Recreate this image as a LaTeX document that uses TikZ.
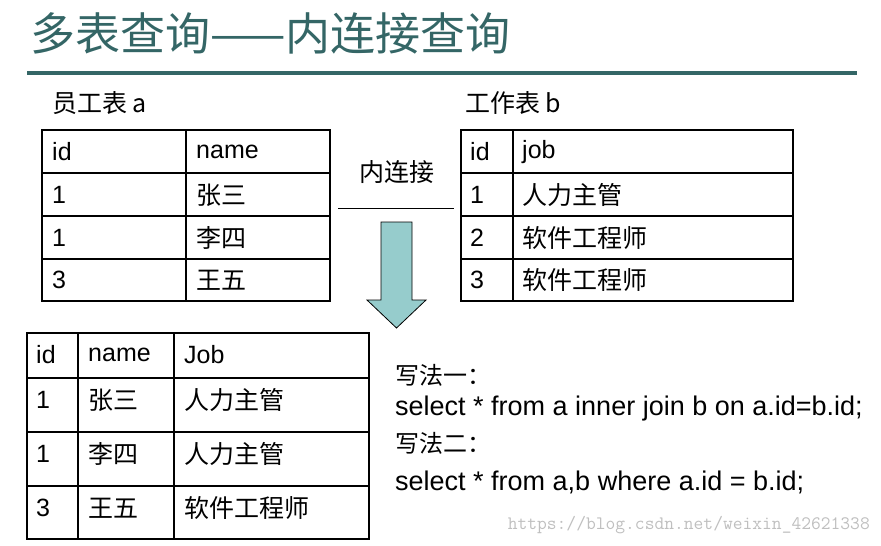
\documentclass[tikz,border=0pt]{standalone}
\usepackage{fontspec}
\setmainfont{Liberation Sans}
\newfontfamily\cjk{Noto Sans CJK SC}
\definecolor{teal1}{RGB}{52,102,102}
\definecolor{arrowfill}{RGB}{150,204,204}
\tikzset{
    cell/.style={anchor=west, inner sep=0pt, font=\fontsize{25}{28}\selectfont},
    code/.style={anchor=west, inner sep=0pt, font=\fontsize{27}{28}\selectfont},
    grid/.style={line width=1.5pt}
}
\begin{document}
\begin{tikzpicture}[x=1pt, y=-1pt]
    \useasboundingbox (0,0) rectangle (881,546);
    % title
    \node[anchor=west, inner sep=0pt, text=teal1, font=\cjk\fontsize{45}{48}\selectfont] (title) at (30,33) {多表查询——内连接查询};
    \draw[teal1, line width=4pt] (27,73) -- (857,73);

    % table a
    \node[cell, font=\cjk\fontsize{25}{28}\selectfont] (la) at (52,103) {员工表 a};
    \draw[grid] (42,130) rectangle (330,301);
    \foreach \y in {173,216,259} \draw[grid] (42,\y) -- (330,\y);
    \draw[grid] (186,130) -- (186,301);
    \node[cell] (a11) at (52,152) {id};
    \node[cell] (a12) at (196,152) {name};
    \node[cell] (a21) at (52,195) {1};
    \node[cell] (a22) at (196,195) {\cjk 张三};
    \node[cell] (a31) at (52,238) {1};
    \node[cell] (a32) at (196,238) {\cjk 李四};
    \node[cell] (a41) at (52,280) {3};
    \node[cell] (a42) at (196,280) {\cjk 王五};

    % table b
    \node[cell, font=\cjk\fontsize{25}{28}\selectfont] (lb) at (465,103) {工作表 b};
    \draw[grid] (461,130) rectangle (793,301);
    \foreach \y in {173,216,259} \draw[grid] (461,\y) -- (793,\y);
    \draw[grid] (513,130) -- (513,301);
    \node[cell] (b11) at (470,152) {id};
    \node[cell] (b12) at (522,152) {job};
    \node[cell] (b21) at (470,195) {1};
    \node[cell] (b22) at (522,195) {\cjk 人力主管};
    \node[cell] (b31) at (470,238) {2};
    \node[cell] (b32) at (522,238) {\cjk 软件工程师};
    \node[cell] (b41) at (470,280) {3};
    \node[cell] (b42) at (522,280) {\cjk 软件工程师};

    % join
    \node[font=\cjk\fontsize{25}{28}\selectfont] (join) at (397,172) {内连接};
    \draw[thick] (338,208) -- (454,208);
    \draw[fill=arrowfill, thick] (381,222) -- (412,222) -- (412,300) -- (426,300)
        -- (396.5,328) -- (367,300) -- (381,300) -- cycle;

    % result table
    \draw[grid] (27,333) rectangle (369,539);
    \foreach \y in {378,432,486} \draw[grid] (27,\y) -- (369,\y);
    \draw[grid] (78,333) -- (78,539);
    \draw[grid] (174,333) -- (174,539);
    \node[cell] (r11) at (36,355) {id};
    \node[cell] (r12) at (88,355) {name};
    \node[cell] (r13) at (184,355) {Job};
    \node[cell] (r21) at (36,400) {1};
    \node[cell] (r22) at (88,400) {\cjk 张三};
    \node[cell] (r23) at (184,400) {\cjk 人力主管};
    \node[cell] (r31) at (36,454) {1};
    \node[cell] (r32) at (88,454) {\cjk 李四};
    \node[cell] (r33) at (184,454) {\cjk 人力主管};
    \node[cell] (r41) at (36,508) {3};
    \node[cell] (r42) at (88,508) {\cjk 王五};
    \node[cell] (r43) at (184,508) {\cjk 软件工程师};

    % sql
    \node[code, font=\cjk\fontsize{24}{28}\selectfont] (w1) at (395,375) {写法一：};
    \node[code] (s1) at (395,409) {select * from a inner join b on a.id=b.id;};
    \node[code, font=\cjk\fontsize{24}{28}\selectfont] (w2) at (395,443) {写法二：};
    \node[code] (s2) at (395,482) {select * from a,b where a.id = b.id;};

    \node[anchor=east, inner sep=0pt, text=black!25, font=\ttfamily\fontsize{19}{21}\selectfont] (mark) at (870,525) {https://blog.csdn.net/weixin\_42621338};
\end{tikzpicture}
\end{document}
